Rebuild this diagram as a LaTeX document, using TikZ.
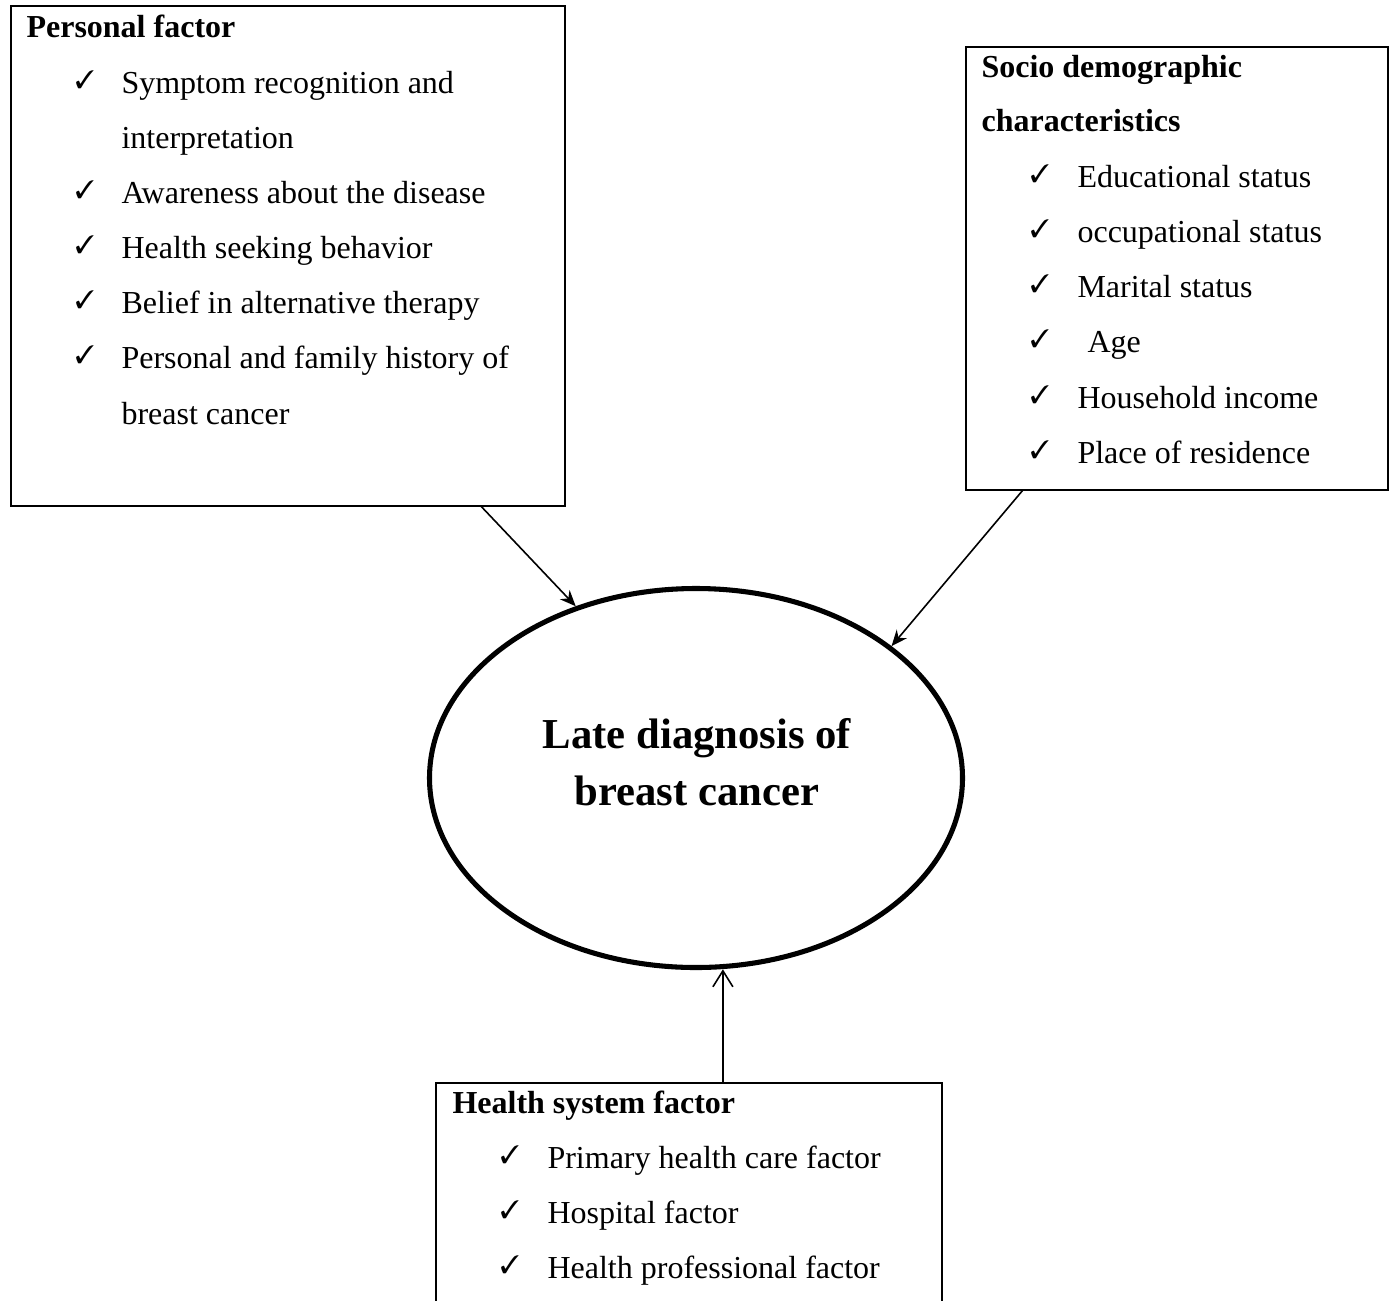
\documentclass[tikz,border=0pt]{standalone}
\usepackage{fontspec}
\setmainfont{Liberation Serif}
\usepackage{pifont}
\usetikzlibrary{arrows.meta,calc,shapes.geometric}

\newcommand{\pxu}{0.375pt}

\begin{document}
\begin{tikzpicture}[x=0.375pt, y=-0.375pt,
    box/.style = {
      draw,
      rectangle,
      line width = 0.75pt,
      outer sep = 0pt,
      inner sep = 0pt,
      anchor = north west
    },
    txt/.style = {anchor=base west, inner sep=0pt, font=\fontsize{12}{14}\selectfont},
    head/.style = {anchor=base west, inner sep=0pt, font=\fontsize{12}{14}\selectfont\bfseries},
    chk/.style = {anchor=base west, inner sep=0pt, line width=0.3pt,
      font=\fontsize{9.5}{10}\selectfont},
    ttl/.style = {anchor=base, inner sep=0pt, font=\fontsize{16}{19}\selectfont\bfseries},
    link/.style = {line width=0.6pt, -{Stealth[length=6pt,width=5pt]}}
  ]
  \useasboundingbox (0,0) rectangle (1398,1300);

  % boxes
  \node[box, minimum width={554*\pxu}, minimum height={500*\pxu}] (personal) at (11,6) {};
  \node[box, minimum width={422*\pxu}, minimum height={443*\pxu}] (socio) at (966,47) {};
  \node[box, minimum width={506*\pxu}, minimum height={260*\pxu}] (health) at (436,1083) {};

  % centre ellipse
  \node[draw, ellipse, line width=1.9pt, inner sep=0pt,
        minimum width={533*\pxu}, minimum height={379*\pxu}] (diag) at (696,778) {};
  \node[ttl] (ttl-1) at (697,748) {Late diagnosis of};
  \node[ttl] (ttl-2) at (697,805) {breast cancer};

  % personal factor
  \node[head] (pf-head) at (26,37) {Personal factor};
  \foreach \y [count=\i] in {93,203,258,313,368}
    \node[chk] (pf-chk-\i) at (75,\y-5) {\ding{51}};
  \foreach \y/\t [count=\i] in {93/Symptom recognition and, 148/interpretation,
      203/Awareness about the disease, 258/Health seeking behavior,
      313/Belief in alternative therapy, 368/Personal and family history of,
      424/breast cancer}
    \node[txt] (pf-\i) at (121,\y) {\t};

  % socio demographic
  \node[head] (sd-head-1) at (981,77) {Socio demographic};
  \node[head] (sd-head-2) at (981,131) {characteristics};
  \foreach \y [count=\i] in {187,242,297,352,408,463}
    \node[chk] (sd-chk-\i) at (1030,\y-5) {\ding{51}};
  \foreach \y/\t [count=\i] in {187/Educational status, 242/occupational status,
      297/Marital status, 408/Household income, 463/Place of residence}
    \node[txt] (sd-\i) at (1077,\y) {\t};
  \node[txt] (sd-age) at (1087,352) {Age};

  % health system
  \node[head] (hs-head) at (452,1113) {Health system factor};
  \foreach \y/\t [count=\i] in {1168/Primary health care factor, 1223/Hospital factor,
      1278/Health professional factor}
  {
    \node[chk] (hs-chk-\i) at (500,\y-5) {\ding{51}};
    \node[txt] (hs-\i) at (547,\y) {\t};
  }

  % arrows
  \coordinate (pf-out) at ($(personal.south west)!0.848!(personal.south east)$);
  \coordinate (sd-out) at ($(socio.south west)!0.135!(socio.south east)$);
  \coordinate (hs-out) at ($(health.north west)!0.567!(health.north east)$);

  \draw[link] (pf-out) -- (diag.125.4);
  \draw[link] (sd-out) -- (diag.34);
  \draw[line width=0.6pt, -{Straight Barb[length=6pt,width=7.5pt]}] (hs-out) -- (hs-out |- diag.277.9);
\end{tikzpicture}
\end{document}
